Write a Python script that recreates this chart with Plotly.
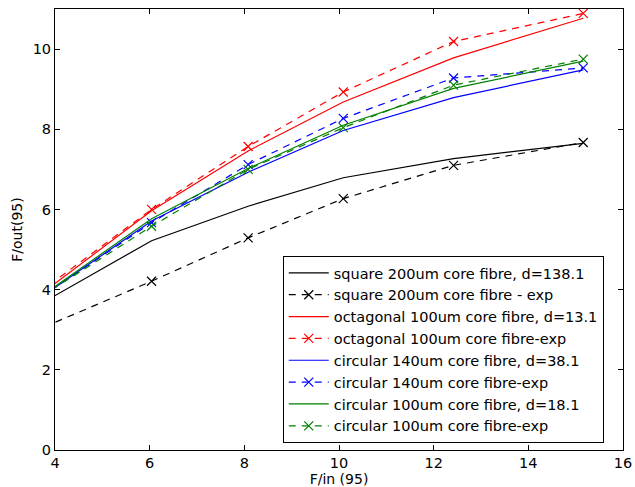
import plotly.graph_objects as go

# F/in values (first point lies just left of the visible axis range)
x_vals = [3.0, 6.04, 8.08, 10.09, 12.42, 15.16]

square_sim = [3.18, 5.22, 6.08, 6.79, 7.27, 7.65]
square_exp = [2.68, 4.21, 5.29, 6.27, 7.10, 7.67]
octag_sim = [3.26, 5.97, 7.46, 8.68, 9.78, 10.77]
octag_exp = [3.35, 6.00, 7.57, 8.93, 10.19, 10.89]
circ140_sim = [3.24, 5.71, 6.93, 7.97, 8.79, 9.48]
circ140_exp = [3.26, 5.67, 7.12, 8.27, 9.28, 9.53]
circ100_sim = [3.25, 5.77, 7.02, 8.10, 9.02, 9.70]
circ100_exp = [3.30, 5.58, 7.00, 8.04, 9.10, 9.75]

series = [
    ("square 200um core fibre, d=138.1", square_sim, "#000000", False),
    ("square 200um core fibre - exp", square_exp, "#000000", True),
    ("octagonal 100um core fibre, d=13.1", octag_sim, "#ff0000", False),
    ("octagonal 100um core fibre-exp", octag_exp, "#ff0000", True),
    ("circular 140um core fibre, d=38.1", circ140_sim, "#0000ff", False),
    ("circular 140um core fibre-exp", circ140_exp, "#0000ff", True),
    ("circular 100um core fibre, d=18.1", circ100_sim, "#008000", False),
    ("circular 100um core fibre-exp", circ100_exp, "#008000", True),
]

fig = go.Figure()
for i, (name, ys, col, is_exp) in enumerate(series):
    if is_exp:
        fig.add_trace(go.Scatter(
            x=x_vals, y=ys, name=name, mode="lines+markers", legendgroup=f"g{i}",
            line=dict(color=col, width=1.2, dash="7px,6px"),
            marker=dict(symbol="x-thin", size=9, color=col,
                        line=dict(color=col, width=1.2)),
            cliponaxis=True,
        ))
    else:
        fig.add_trace(go.Scatter(
            x=x_vals, y=ys, name=name, mode="lines", legendgroup=f"g{i}",
            line=dict(color=col, width=1.2),
        ))

axis_common = dict(
    showgrid=False, zeroline=False, showline=True, linecolor="black",
    linewidth=1, mirror="allticks", ticks="inside", ticklen=5,
    tickcolor="black", automargin=False,
    tickfont=dict(family="DejaVu Sans", size=14.5, color="black"),
)

fig.update_layout(
    width=635, height=487,
    margin=dict(l=55, r=12, t=9, b=37),
    paper_bgcolor="white", plot_bgcolor="white",
    font=dict(family="DejaVu Sans", size=14, color="black"),
    xaxis=dict(range=[4, 16], dtick=2,
               title=dict(text="F/in (95)", standoff=1,
                          font=dict(family="DejaVu Sans", size=14)),
               **axis_common),
    yaxis=dict(range=[0, 11], dtick=2,
               title=dict(text="F/out(95)", standoff=6,
                          font=dict(family="DejaVu Sans", size=14)),
               **axis_common),
    legend=dict(x=0.401, y=0.016, xanchor="left", yanchor="bottom",
                bgcolor="white", bordercolor="black", borderwidth=1,
                font=dict(family="DejaVu Sans", size=14.5, color="black"),
                tracegroupgap=0, itemwidth=40),
    showlegend=True,
)

fig.write_html("out.html")
